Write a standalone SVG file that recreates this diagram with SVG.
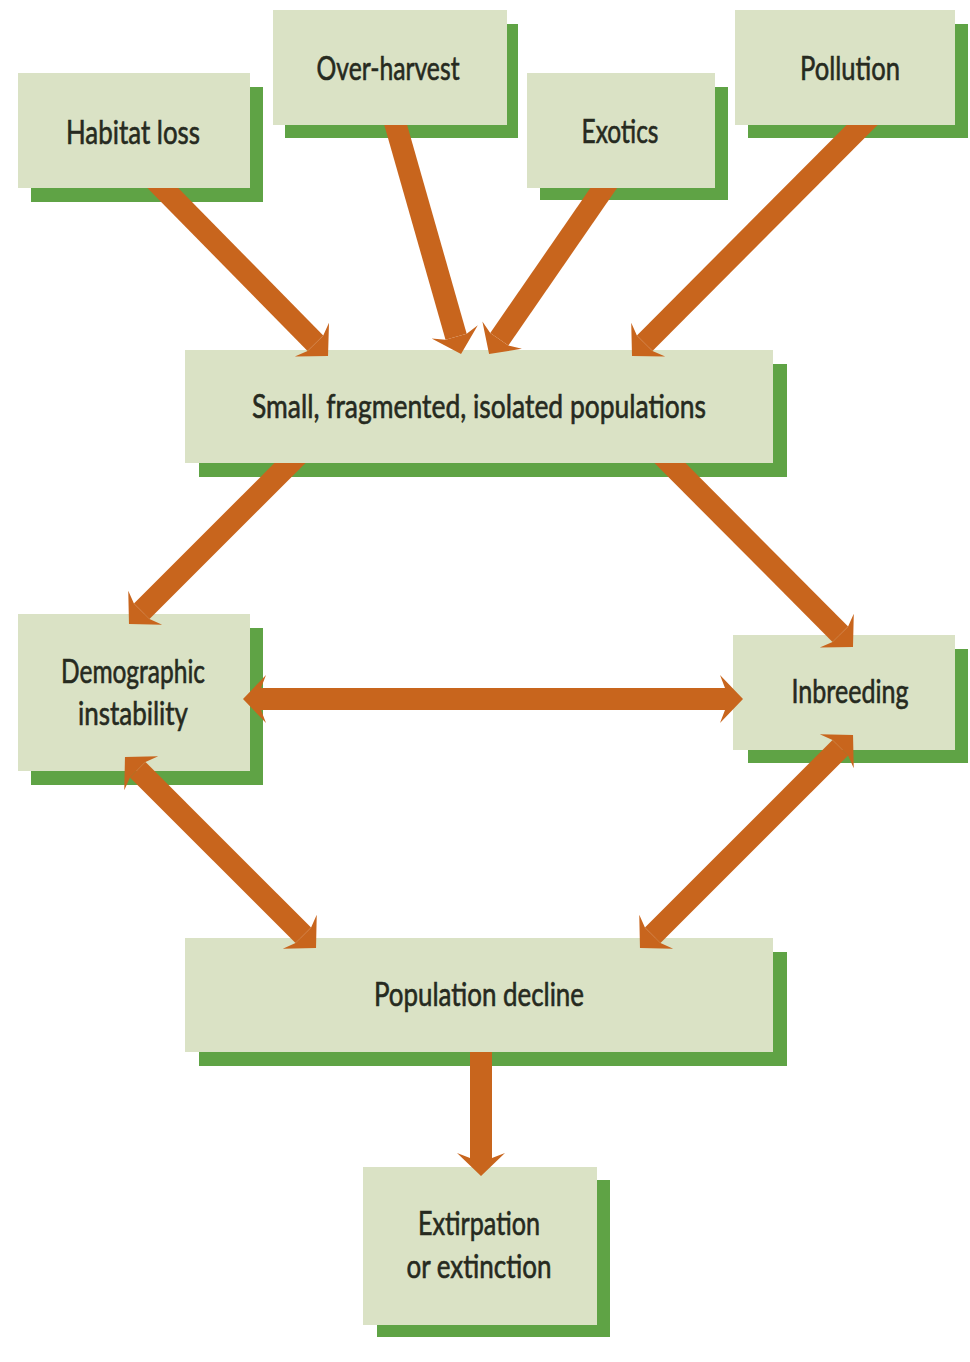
<svg xmlns="http://www.w3.org/2000/svg" width="970" height="1362" viewBox="0 0 970 1362">
<style>
.front{fill:#dae2c5}
.shadow{fill:#5fa345}
.lbl{font-family:"Lato","Liberation Sans",sans-serif;font-size:32px;fill:#262a20;stroke:#262a20;stroke-width:0.6;text-anchor:middle}
.conn{stroke:#c8651d;stroke-width:22;fill:none;stroke-linecap:butt}
</style>
<defs>
<marker id="ah" markerUnits="userSpaceOnUse" viewBox="-10 -30 40 60" markerWidth="40" markerHeight="60" refX="0" refY="0" orient="auto-start-reverse">
<path d="M18,0 L-5,24 L0,11 L0,-11 L-5,-24 Z" fill="#c8651d"/>
</marker>
<clipPath id="below188"><rect x="0" y="188" width="970" height="1174"/></clipPath>
<clipPath id="below125"><rect x="0" y="125" width="970" height="1237"/></clipPath>
<clipPath id="below463"><rect x="0" y="463" width="970" height="899"/></clipPath>
</defs>
<rect width="970" height="1362" fill="#ffffff"/>
<g id="habitat-loss">
<rect class="shadow" x="31" y="87" width="232" height="115"/>
<rect class="front" x="18" y="73" width="232" height="115"/>
<text class="lbl" x="133" y="144" textLength="134" lengthAdjust="spacingAndGlyphs">Habitat loss</text>
</g>
<g id="over-harvest">
<rect class="shadow" x="285" y="24" width="233" height="114"/>
<rect class="front" x="273" y="10" width="234" height="115"/>
<text class="lbl" x="388" y="80" textLength="143" lengthAdjust="spacingAndGlyphs">Over-harvest</text>
</g>
<g id="exotics">
<rect class="shadow" x="540" y="87" width="188" height="113"/>
<rect class="front" x="527" y="73" width="188" height="115"/>
<text class="lbl" x="620" y="143" textLength="77" lengthAdjust="spacingAndGlyphs">Exotics</text>
</g>
<g id="pollution">
<rect class="shadow" x="748" y="24" width="220" height="114"/>
<rect class="front" x="735" y="10" width="220" height="115"/>
<text class="lbl" x="850" y="80" textLength="100" lengthAdjust="spacingAndGlyphs">Pollution</text>
</g>
<g id="small-populations">
<rect class="shadow" x="199" y="364" width="588" height="113"/>
<rect class="front" x="185" y="350" width="588" height="113"/>
<text class="lbl" x="479" y="418" textLength="454" lengthAdjust="spacingAndGlyphs">Small, fragmented, isolated populations</text>
</g>
<g id="demographic-instability">
<rect class="shadow" x="31" y="628" width="232" height="157"/>
<rect class="front" x="18" y="614" width="232" height="157"/>
<text class="lbl" x="133" y="683" textLength="144" lengthAdjust="spacingAndGlyphs">Demographic</text>
<text class="lbl" x="133" y="725" textLength="110" lengthAdjust="spacingAndGlyphs">instability</text>
</g>
<g id="inbreeding">
<rect class="shadow" x="748" y="649" width="220" height="114"/>
<rect class="front" x="733" y="635" width="222" height="115"/>
<text class="lbl" x="850" y="703" textLength="117" lengthAdjust="spacingAndGlyphs">Inbreeding</text>
</g>
<g id="population-decline">
<rect class="shadow" x="199" y="952" width="588" height="114"/>
<rect class="front" x="185" y="938" width="588" height="114"/>
<text class="lbl" x="479" y="1006" textLength="210" lengthAdjust="spacingAndGlyphs">Population decline</text>
</g>
<g id="extirpation">
<rect class="shadow" x="377" y="1180" width="233" height="157"/>
<rect class="front" x="363" y="1167" width="234" height="158"/>
<text class="lbl" x="479" y="1235" textLength="122" lengthAdjust="spacingAndGlyphs">Extirpation</text>
<text class="lbl" x="479" y="1278" textLength="145" lengthAdjust="spacingAndGlyphs">or extinction</text>
</g>
<g id="connectors">
<line class="conn" clip-path="url(#below188)" x1="151" y1="176" x2="315.4" y2="343.2" marker-end="url(#ah)"/>
<line class="conn" clip-path="url(#below125)" x1="392" y1="112" x2="456.1" y2="336.7" marker-end="url(#ah)"/>
<line class="conn" clip-path="url(#below188)" x1="612" y1="176" x2="499.3" y2="339.2" marker-end="url(#ah)"/>
<line class="conn" clip-path="url(#below125)" x1="873" y1="114" x2="644.7" y2="343.2" marker-end="url(#ah)"/>
<line class="conn" clip-path="url(#below463)" x1="302" y1="451" x2="141.7" y2="611.3" marker-end="url(#ah)"/>
<line class="conn" clip-path="url(#below463)" x1="658" y1="451" x2="840.3" y2="634.2" marker-end="url(#ah)"/>
<line class="conn" x1="261" y1="699" x2="725" y2="699" marker-start="url(#ah)" marker-end="url(#ah)"/>
<line class="conn" x1="137.7" y1="769.7" x2="303.3" y2="935.3" marker-start="url(#ah)" marker-end="url(#ah)"/>
<line class="conn" x1="840.3" y1="747.7" x2="652.7" y2="935.3" marker-start="url(#ah)" marker-end="url(#ah)"/>
<line class="conn" x1="481" y1="1052" x2="481" y2="1158" marker-end="url(#ah)"/>
</g>
</svg>
